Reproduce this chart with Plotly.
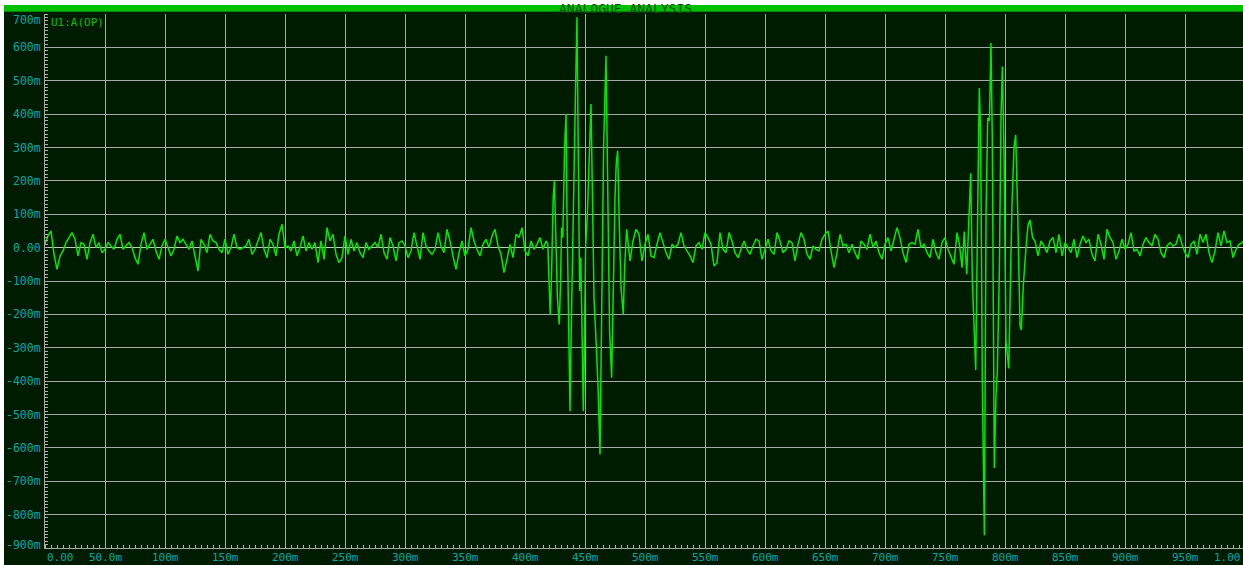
import numpy as np
import plotly.graph_objects as go

# ---- trace U1:A(OP), values in millivolts ----
STEP_MS = 2.5

# quiet stretch, 0 .. 415 ms, one value every 2.5 ms
quiet_1_start_ms = 0.0
quiet_1_mv = [
    10, 35, 50, -20, -65, -25, -10, 15, 30, 45,
    25, -25, 15, 10, -35, 15, 40, 0, 15, -15,
    -5, 15, 5, -5, 25, 40, -5, 5, 15, 0,
    -30, -50, 10, 45, -5, 10, 25, -10, -35, 5,
    25, 0, -25, -5, 35, 15, 25, 10, -5, 20,
    -25, -70, 25, 10, -15, 40, 20, 15, -5, -15,
    25, -20, 0, 40, 0, -5, 0, 5, 25, -20,
    -5, 20, 45, -5, -30, 25, 10, -25, 40, 70,
    0, 5, -10, 20, -25, 0, 35, -10, 15, -5,
    15, -45, 20, -35, 60, 20, 40, -20, -45,
    -30, 35, -20, 25, -10, 15, -15, -30, 15, -5,
    5, 15, 0, 40, -15, -35, 30, 5, -40, 15,
    20, 5, -30, -10, 45, 5, -35, 45, 5, -10,
    -20, -5, 45, 5, -15, 55, 20, -25, -65, -15,
    20, -25, -5, 60, 20, -5, -25, 10, 25, 0,
    35, 55, 5, -20, -75, -35, 10, -30, 40, 30,
    60, -10, -25, 20, -5, 10, 30, -5,
]

# first burst
burst_1_ms = [
    417.5, 419, 420, 421, 422, 423.5, 424.5, 425.5, 427, 428.5,
    429.5, 430.5, 431.5, 433, 434.2, 435, 436.5, 437.5, 438.5, 440,
    442, 443.3, 444.5, 445.5, 446.5, 448.6, 449.5, 450.5, 452, 453.5,
    455, 456, 457.5, 459.5, 461, 462.5, 463.5, 464.5, 465.5, 467.5,
    468.5, 469.5, 470.5, 472.2, 473.5, 475, 476, 477.2, 478.5, 480,
    481.9, 483, 484.7, 486, 487.5,
]
burst_1_mv = [
    20, 10, -80, -200, -100, 150, 200, 60, -150, -230,
    -120, 60, 30, 300, 400, 100, -300, -490, -250, 100,
    450, 690, 200, -130, -30, -490, -300, 0, 100, 250,
    430, 200, -150, -300, -430, -620, -300, 150, 300, 575,
    300, -100, -250, -390, -100, 150, 250, 290, 80, -120,
    -200, -60, 55, 0, -40,
]

# quiet stretch, 490 .. 760 ms
quiet_2_start_ms = 490.0
quiet_2_mv = [
    20, 55, 40, -40, 10, 40, -25, -30, 10, 45,
    15, -15, -35, 10, 0, 10, 45, 5, -10, -25,
    -45, 5, 15, -5, 45, 30, 10, -55, -45, 45,
    -5, -15, 45, 20, -15, -30, -5, 20, -5, -20,
    5, 25, 20, -35, -5, 25, -10, -20, 45, 20,
    -15, -5, 20, 15, -40, 10, 45, 25, -20, -35,
    5, -5, -10, 25, 40, 50, -10, -60, -15, 40,
    5, 10, -15, 10, -15, -35, 20, 10, -5, 40,
    0, 20, -15, -35, 10, 30, -10, 25, 60, 30,
    -15, -45, 10, 15, 10, 55, 0, 10, -15, -30,
    25, -15, -35, 15, 30, -5, -30, -50, 45,
]

# second burst
burst_2_ms = [
    762, 764.2, 766.1, 768.1, 769.7, 771.4, 772.8, 773.6, 775.6, 777.2,
    778.6, 779.7, 781.1, 782.8, 784.2, 785.6, 787, 788.3, 789.4, 791.1,
    792.5, 793.6, 795.3, 796.7, 797.8, 799.2, 800.8, 803.1, 804.2, 805.8,
    807.5, 808.9, 810.6, 812.5, 813.6, 815.3, 817.5, 819.2, 820.8, 823,
]
burst_2_mv = [
    10, -60, 48, -80, 90, 223, -100, -170, -367, 100,
    478, 340, -400, -862, 100, 388, 380, 613, 330, -660,
    -440, -372, -70, 400, 543, 280, -280, -362, -170, 128,
    300, 338, 100, -232, -247, -110, 0, 68, 83, 30,
]

# quiet stretch, 825 .. 1000 ms
quiet_3_start_ms = 825.0
quiet_3_mv = [
    20, -25, 20, 5, -15, 20, 30, -15, 40, -25,
    15, 0, -15, 25, -30, 10, 35, 15, 25, -20,
    -40, 40, 10, -35, 55, 30, 15, -35, -10, 25,
    -5, 10, 45, -10, -5, -25, 10, 30, 15, 5,
    40, 25, -15, -30, 5, 15, 5, 10, 40, 10,
    -15, -30, 10, 20, -20, 40, 15, 40, -15, -45,
    -10, 45, 5, 50, 15, 20, -30, -5, 10, 15,
    25,
]

# ---- axes ----
y_tick_vals = [0.7, 0.6, 0.5, 0.4, 0.3, 0.2, 0.1, 0.0,
               -0.1, -0.2, -0.3, -0.4, -0.5, -0.6, -0.7, -0.8, -0.9]
y_tick_text = ["700m", "600m", "500m", "400m", "300m", "200m", "100m", "0.00",
               "-100m", "-200m", "-300m", "-400m", "-500m", "-600m", "-700m",
               "-800m", "-900m"]
x_tick_vals = [0.0, 0.05, 0.10, 0.15, 0.20, 0.25, 0.30, 0.35, 0.40, 0.45, 0.50,
               0.55, 0.60, 0.65, 0.70, 0.75, 0.80, 0.85, 0.90, 0.95, 1.0]
x_tick_text = ["0.00", "50.0m", "100m", "150m", "200m", "250m", "300m", "350m",
               "400m", "450m", "500m", "550m", "600m", "650m", "700m", "750m",
               "800m", "850m", "900m", "950m", "1.00"]

title_text = "ANALOGUE ANALYSIS"
trace_name = "U1:A(OP)"


def quiet_times(start_ms, values):
    return start_ms + np.arange(len(values)) * STEP_MS


t_ms = np.concatenate([
    quiet_times(quiet_1_start_ms, quiet_1_mv),
    burst_1_ms,
    quiet_times(quiet_2_start_ms, quiet_2_mv),
    burst_2_ms,
    quiet_times(quiet_3_start_ms, quiet_3_mv),
])
v_mv = np.concatenate([quiet_1_mv, burst_1_mv, quiet_2_mv, burst_2_mv, quiet_3_mv])

t_s = t_ms / 1000.0
v_v = v_mv / 1000.0

# ---- look ----
BG = "#001C00"
GRID = "#A8A8A8"
LABEL = "#00A8A8"
BAR = "#00C000"
MONO = "DejaVu Sans Mono"

W, H = 1243, 565
ML, MR, MT, MB = 45, 0, 14, 17
plot_w = W - ML - MR
plot_h = H - MT - MB


def px_x(px):
    return (px - ML) / plot_w


def px_y(py):
    return (H - MB - py) / plot_h


fig = go.Figure()
fig.add_trace(go.Scatter(
    x=t_s, y=v_v, mode="lines",
    line=dict(color="#00EA00", width=1.5),
    hoverinfo="skip", showlegend=False,
))

shapes = [
    # dark panel behind the whole graph
    dict(type="rect", xref="paper", yref="paper", layer="below",
         x0=px_x(4), x1=1.0, y0=px_y(H), y1=px_y(12),
         fillcolor=BG, line=dict(width=0)),
    # green title strip
    dict(type="rect", xref="paper", yref="paper", layer="below",
         x0=px_x(4), x1=1.0, y0=px_y(11), y1=px_y(5),
         fillcolor=BAR, line=dict(width=0)),
    dict(type="rect", xref="paper", yref="paper", layer="below",
         x0=px_x(4), x1=1.0, y0=px_y(12), y1=px_y(11),
         fillcolor="#008A00", line=dict(width=0)),
]

annotations = [
    dict(text=title_text, xref="paper", yref="paper", x=px_x(625), y=px_y(0),
         xanchor="center", yanchor="top", showarrow=False, borderpad=0,
         font=dict(family=MONO, size=13, color="#005000")),
    dict(text=trace_name, xref="paper", yref="paper", x=0, y=1, xshift=4,
         xanchor="left", yanchor="top", showarrow=False,
         font=dict(family=MONO, size=11, color=BAR)),
]

# x labels: first left-aligned, last flush with the right edge
last_x = len(x_tick_vals) - 1
for i, (xv, xt) in enumerate(zip(x_tick_vals, x_tick_text)):
    if i == 0:
        anchor, xr, xpos = "left", "x", xv
    elif i == last_x:
        anchor, xr, xpos = "right", "paper", 1.0
    else:
        anchor, xr, xpos = "center", "x", xv
    annotations.append(dict(
        text=xt, xref=xr, yref="paper", x=xpos, y=0, yshift=-1,
        xanchor=anchor, yanchor="top", showarrow=False,
        font=dict(family=MONO, size=11, color=LABEL),
    ))

# y labels: end ones nudged inside the frame
last_y = len(y_tick_vals) - 1
for i, (yv, yt) in enumerate(zip(y_tick_vals, y_tick_text)):
    shift = -6 if i == 0 else (3 if i == last_y else 0)
    annotations.append(dict(
        text=yt, xref="paper", yref="y", x=0, y=yv, xshift=-2, yshift=shift,
        xanchor="right", yanchor="middle", showarrow=False,
        font=dict(family=MONO, size=11.5, color=LABEL),
    ))

fig.update_layout(
    width=W, height=H,
    margin=dict(l=ML, r=MR, t=MT, b=MB, pad=0),
    paper_bgcolor="white", plot_bgcolor=BG,
    shapes=shapes, annotations=annotations,
    showlegend=False,
    xaxis=dict(
        range=[0, plot_w / 1200.0],
        tickmode="array", tickvals=x_tick_vals, showticklabels=False,
        showgrid=True, gridcolor=GRID, gridwidth=1,
        zeroline=False, ticks="",
        showline=True, linecolor=GRID, linewidth=1,
        minor=dict(dtick=0.005, tick0=0, ticks="inside", ticklen=3,
                   tickcolor="#B0B0B0", showgrid=False),
        fixedrange=True,
    ),
    yaxis=dict(
        range=[-0.9, 0.7],
        tickmode="array", tickvals=y_tick_vals, showticklabels=False,
        showgrid=True, gridcolor=GRID, gridwidth=1,
        zeroline=True, zerolinecolor="#C8C8C8", zerolinewidth=1,
        ticks="",
        showline=True, linecolor=GRID, linewidth=1,
        minor=dict(dtick=0.01, tick0=0, ticks="inside", ticklen=3,
                   tickcolor="#B0B0B0", showgrid=False),
        fixedrange=True,
    ),
)

fig.write_html("out.html")
